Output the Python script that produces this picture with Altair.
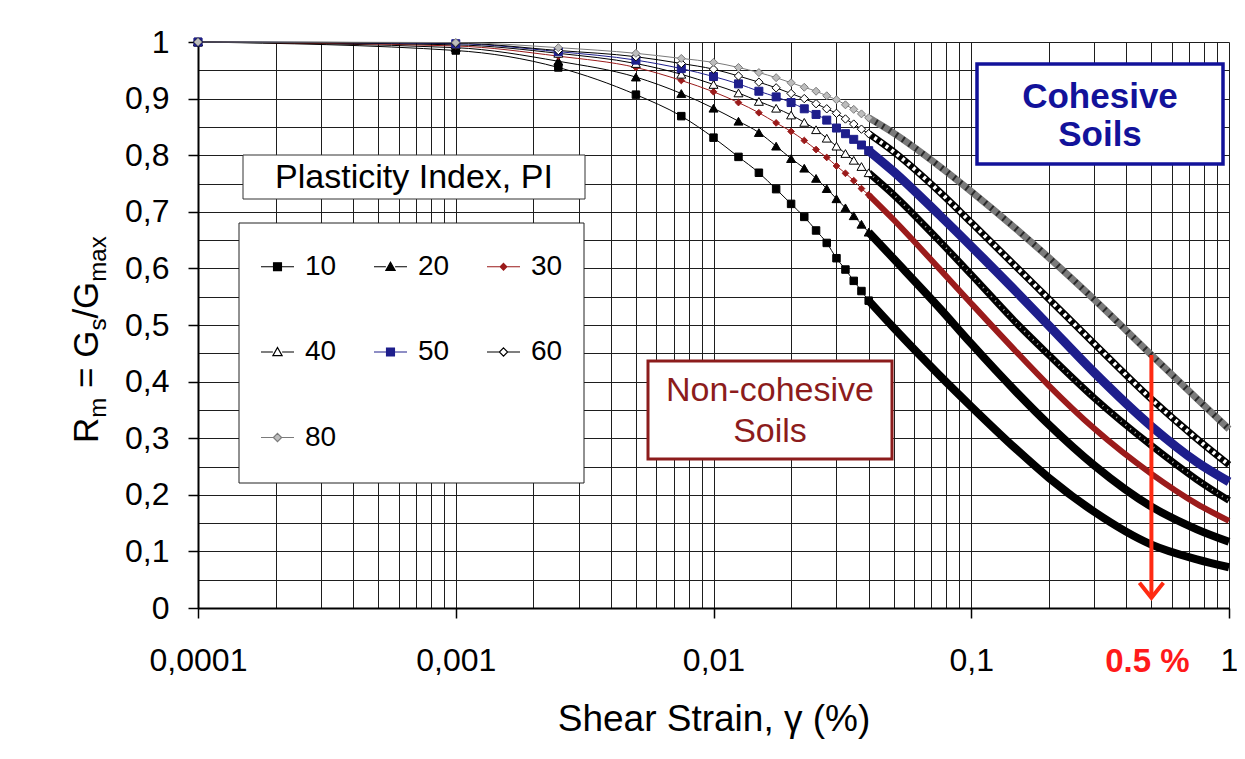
import altair as alt
import pandas as pd

FONT = "Liberation Sans"

# ---------------- data ----------------
strain = [0.0001, 0.001, 0.0025, 0.005, 0.0075, 0.01, 0.0125, 0.015, 0.0175, 0.02,
          0.0225, 0.025, 0.0275, 0.03, 0.0325, 0.035, 0.0375, 0.04,
          0.05, 0.075, 0.1, 0.15, 0.2, 0.3, 0.5, 0.75, 1.0]

rm_pi10 = [1.0, 0.985, 0.955, 0.907, 0.869, 0.831, 0.797, 0.769, 0.740, 0.714,
           0.691, 0.667, 0.645, 0.618, 0.598, 0.578, 0.560, 0.543,
           0.495, 0.412, 0.356, 0.280, 0.230, 0.170, 0.112, 0.086, 0.072]
rm_pi20 = [1.0, 0.990, 0.966, 0.938, 0.909, 0.883, 0.860, 0.840, 0.816, 0.794,
           0.777, 0.759, 0.741, 0.723, 0.707, 0.693, 0.678, 0.664,
           0.617, 0.531, 0.467, 0.381, 0.324, 0.252, 0.179, 0.139, 0.117]
rm_pi30 = [1.0, 0.993, 0.975, 0.955, 0.932, 0.912, 0.893, 0.875, 0.857, 0.842,
           0.826, 0.810, 0.796, 0.781, 0.768, 0.755, 0.741, 0.730,
           0.686, 0.600, 0.538, 0.452, 0.393, 0.317, 0.237, 0.184, 0.154]
rm_pi40 = [1.0, 0.995, 0.980, 0.962, 0.943, 0.925, 0.910, 0.895, 0.883, 0.871,
           0.858, 0.845, 0.830, 0.816, 0.803, 0.791, 0.780, 0.769,
           0.730, 0.649, 0.589, 0.503, 0.447, 0.371, 0.287, 0.227, 0.190]
rm_pi50 = [1.0, 0.997, 0.983, 0.968, 0.953, 0.939, 0.926, 0.913, 0.903, 0.893,
           0.882, 0.872, 0.862, 0.848, 0.838, 0.828, 0.818, 0.808,
           0.771, 0.695, 0.639, 0.558, 0.499, 0.416, 0.321, 0.258, 0.223]
rm_pi60 = [1.0, 0.998, 0.985, 0.974, 0.962, 0.952, 0.940, 0.929, 0.919, 0.909,
           0.900, 0.891, 0.882, 0.874, 0.864, 0.855, 0.846, 0.838,
           0.806, 0.736, 0.681, 0.602, 0.546, 0.467, 0.369, 0.299, 0.253]
rm_pi80 = [1.0, 0.999, 0.990, 0.980, 0.971, 0.964, 0.955, 0.946, 0.937, 0.928,
           0.920, 0.913, 0.905, 0.898, 0.889, 0.881, 0.873, 0.866,
           0.839, 0.781, 0.736, 0.669, 0.619, 0.545, 0.447, 0.370, 0.316]

pi_values = [10, 20, 30, 40, 50, 60, 80]
series = [rm_pi10, rm_pi20, rm_pi30, rm_pi40, rm_pi50, rm_pi60, rm_pi80]

x_major = [0.0001, 0.001, 0.01, 0.1, 1]
x_minor_mult = [1, 2, 3, 4, 5, 6, 7, 8, 9]
y_grid = [0, 0.05, 0.1, 0.15, 0.2, 0.25, 0.3, 0.35, 0.4, 0.45, 0.5,
          0.55, 0.6, 0.65, 0.7, 0.75, 0.8, 0.85, 0.9, 0.95, 1.0]

# red arrow at 0.5 % strain
arrow_strain = [0.5]
arrow_top = [0.447]
arrow_tip = [0.018]

rows = []
for pi, vals in zip(pi_values, series):
    for s, v in zip(strain, vals):
        rows.append({"PI": pi, "strain": s, "Rm": v})
df = pd.DataFrame(rows)

x_grid = [m * d for d in x_major[:-1] for m in x_minor_mult] + [1]

# ---------------- styles ----------------
style = {
    10: dict(color="#000000", shape="square", fill="#000000", size=56, band=8),
    20: dict(color="#000000", shape="triangle-up", fill="#000000", size=80, band=8),
    30: dict(color="#9B1B1B", shape="diamond", fill="#9B1B1B", size=45, band=6),
    40: dict(color="#000000", shape="triangle-up", fill="#FFFFFF", size=80, band=7),
    50: dict(color="#1E1E8C", shape="square", fill="#1E1E8C", size=64, band=9),
    60: dict(color="#000000", shape="diamond", fill="#FFFFFF", size=70, band=7),
    80: dict(color="#7A7A7A", shape="diamond", fill="#BDBDBD", size=64, band=7),
}

decade = "abs(log(datum.value)/LN10 - round(log(datum.value)/LN10)) < 0.001"
tenth = "abs(datum.value*10 - round(datum.value*10)) < 0.001"

xaxis = alt.Axis(
    values=x_grid, grid=True, gridColor="#1e1e1e", gridWidth=1,
    domainColor="black", domainWidth=2,
    tickColor="black", tickWidth=1.5, tickSize=10,
    tickOpacity={"condition": {"test": decade, "value": 1}, "value": 0},
    labelExpr=f"({decade}) ? replace(format(datum.value, '.4~f'), '.', ',') : ''",
    labelFont=FONT, labelFontSize=32, labelColor="black", labelPadding=27,
    labelFlush=False, labelOverlap=False,
    title="Shear Strain, γ (%)", titleFont=FONT, titleFontSize=37,
    titleFontWeight="normal", titleColor="black", titlePadding=25,
)
yaxis = alt.Axis(
    values=y_grid, grid=True, gridColor="#1e1e1e", gridWidth=1,
    domainColor="black", domainWidth=2,
    tickColor="black", tickWidth=1.5, tickSize=10,
    tickOpacity={"condition": {"test": tenth, "value": 1}, "value": 0},
    labelExpr=f"({tenth}) ? replace(format(datum.value, '.1~f'), '.', ',') : ''",
    labelFont=FONT, labelFontSize=32, labelColor="black", labelPadding=19,
    labelOverlap=False, title=None,
)

xscale = alt.Scale(type="log", domain=[0.0001, 1])
yscale = alt.Scale(domain=[0, 1])
X = alt.X("strain:Q", scale=xscale, axis=xaxis)
Y = alt.Y("Rm:Q", scale=yscale, axis=yaxis)

base = alt.Chart(df)
layers = []

for pi in pi_values:
    st = style[pi]
    f = f"datum.PI == {pi}"
    layers.append(base.transform_filter(f).mark_line(
        color=st["color"], strokeWidth=1, interpolate="monotone").encode(x=X, y=Y))
for pi in pi_values:
    st = style[pi]
    f = f"datum.PI == {pi} && datum.strain >= 0.04"
    layers.append(base.transform_filter(f).mark_line(
        color=st["color"], strokeWidth=st["band"], strokeCap="butt",
        strokeJoin="round", interpolate="monotone").encode(x=X, y=Y))
    if pi == 40:
        layers.append(base.transform_filter(f).mark_line(
            color="#FFFFFF", strokeWidth=2, strokeDash=[1, 5], opacity=0.7,
            interpolate="monotone").encode(x=X, y=Y))
    if pi == 60:
        layers.append(base.transform_filter(f).mark_line(
            color="#FFFFFF", strokeWidth=st["band"] - 3, strokeDash=[3, 4],
            interpolate="monotone").encode(x=X, y=Y))
    if pi == 80:
        layers.append(base.transform_filter(f).mark_line(
            color="#2a2a2a", strokeWidth=st["band"] - 1, strokeDash=[2, 6],
            interpolate="monotone").encode(x=X, y=Y))
for pi in pi_values:
    st = style[pi]
    f = f"datum.PI == {pi} && datum.strain <= 0.04"
    layers.append(base.transform_filter(f).mark_point(
        shape=st["shape"], size=st["size"], filled=True, fill=st["fill"],
        stroke=st["color"], strokeWidth=1, opacity=1).encode(x=X, y=Y))

# legend (entries drawn by Vega-Lite from explicit scale domains)
leg_paths = [
    "M-1,0H-0.26M0.26,0H1M-0.24,-0.24H0.24V0.24H-0.24Z",
    "M-1,0H-0.28M0.28,0H1M0,-0.27L0.28,0.22L-0.28,0.22Z",
    "M-1,0H-0.2M0.2,0H1M0,-0.2L0.2,0L0,0.2L-0.2,0Z",
    "M-1,0H-0.28M0.28,0H1M0,-0.27L0.28,0.22L-0.28,0.22Z",
    "M-1,0H-0.26M0.26,0H1M-0.24,-0.24H0.24V0.24H-0.24Z",
    "M-1,0H-0.25M0.25,0H1M0,-0.25L0.25,0L0,0.25L-0.25,0Z",
    "M-1,0H-0.25M0.25,0H1M0,-0.25L0.25,0L0,0.25L-0.25,0Z",
]
leg = alt.Legend(
    title=None, orient="none", legendX=62, legendY=207, columns=3,
    direction="horizontal",
    columnPadding=34, rowPadding=53.5, symbolSize=1089, symbolStrokeWidth=1.2,
    symbolOpacity=1,
    labelFont=FONT, labelFontSize=28, labelColor="black", labelOffset=10,
    padding=0,
)
dom = pi_values
layers.append(base.transform_filter("false").mark_point(filled=True, opacity=1).encode(
    x=X, y=Y,
    shape=alt.Shape("PI:N", scale=alt.Scale(domain=dom, range=leg_paths), legend=leg),
    fill=alt.Fill("PI:N", scale=alt.Scale(domain=dom, range=[style[p]["fill"] for p in dom]), legend=leg),
    stroke=alt.Stroke("PI:N", scale=alt.Scale(domain=dom, range=[style[p]["color"] for p in dom]), legend=leg),
))

one = alt.Data(values=[{"k": 0}])

def box(x1, x2, y1, y2, stroke, sw):
    return alt.Chart(one).mark_rect(fill="white", stroke=stroke, strokeWidth=sw).encode(
        x=alt.value(x1), x2=alt.value(x2), y=alt.value(y1), y2=alt.value(y2))

def label(txt, x, y, size, color, weight="normal", angle=0, align="center", baseline="middle"):
    return alt.Chart(one).mark_text(
        text=txt, font=FONT, fontSize=size, color=color, fontWeight=weight,
        angle=angle, align=align, baseline=baseline).encode(x=alt.value(x), y=alt.value(y))

# legend frame + title box
layers.append(box(41, 386, 181, 441, "#222222", 1))
layers.append(box(45, 387, 113, 157, "#333333", 1))
layers.append(label("Plasticity Index, PI", 216, 136, 34, "black"))

# annotation boxes
navy = "#12129A"
layers.append(box(779, 1025, 22, 122, navy, 3.5))
layers.append(label("Cohesive", 902, 55, 35, navy, "bold"))
layers.append(label("Soils", 902, 93, 35, navy, "bold"))
dred = "#8C1C1C"
layers.append(box(450, 694, 319, 417, dred, 3))
layers.append(label("Non-cohesive", 572, 349, 34, dred))
layers.append(label("Soils", 572, 390, 34, dred))

# red arrow
adf = pd.DataFrame({"strain": arrow_strain, "Rm": arrow_top, "Rm2": arrow_tip})
red = "#FF2A12"
layers.append(alt.Chart(adf).mark_rule(color=red, strokeWidth=4).encode(
    x=X, y=Y, y2=alt.Y2("Rm2:Q")))
layers.append(alt.Chart(adf).mark_point(
    shape="M-1,-1.25L0,0L1,-1.25", size=576, filled=False, stroke=red,
    strokeWidth=4, opacity=1).encode(x=X, y=alt.Y("Rm2:Q", scale=yscale, axis=yaxis)))
layers.append(alt.Chart(adf).mark_text(
    text="0.5 %", font=FONT, fontSize=33, fontWeight="bold", color="#FF1A1A",
    baseline="middle", dx=-4).encode(x=X, y=alt.value(620)))

# y-axis title with subscripts: R_m = G_s/G_max (each glyph run placed separately)
F, S = 35, 24
adv = {"R": 0.722, "m": 0.833, "=": 0.584, "G": 0.778, "s": 0.5,
       "/": 0.278, "a": 0.556, "x": 0.5, " ": 0.278}
pieces = [("R", F, 0), ("m", S, 0), ("=", F, 0.278 * F), ("G", F, 0.278 * F),
          ("s", S, 0), ("/", F, 0), ("G", F, 0), ("max", S, 0)]
ypos = 401
for txt, size, gap in pieces:
    ypos -= gap
    xb = -100 if size == F else -92
    layers.append(label(txt, xb, ypos, size, "black", angle=270, align="left",
                        baseline="alphabetic"))
    ypos -= sum(adv[c] for c in txt) * size

chart = alt.layer(*layers).properties(
    width=1031, height=566,
    autosize=alt.AutoSizeParams(type="none"),
    padding={"left": 190, "top": 34, "right": 8, "bottom": 137},
    background="white",
).configure_view(stroke=None)

chart.save("out.html", embed_options={"renderer": "svg", "actions": False})
